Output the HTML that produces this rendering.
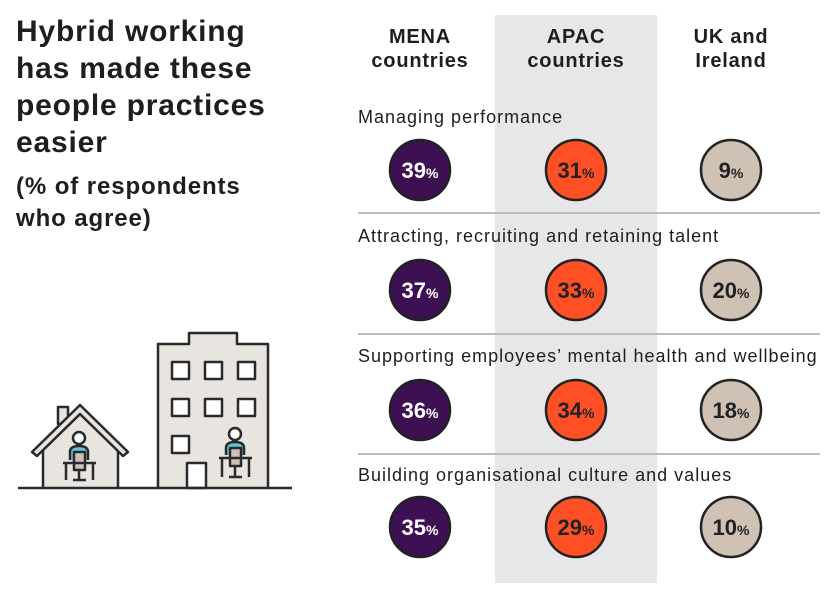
<!DOCTYPE html>
<html><head><style>
body{margin:0;width:832px;height:596px;background:#fff;font-family:"Liberation Sans",sans-serif;overflow:hidden}
</style></head><body>
<svg width="832" height="596" xmlns="http://www.w3.org/2000/svg" font-family="Liberation Sans, sans-serif">
<rect x="495" y="15" width="162" height="568" fill="#e8e7e7"/>
<g font-size="30" font-weight="bold" fill="#1e1e1e" letter-spacing="0.8">
<text x="16" y="41">Hybrid working</text>
<text x="16" y="78">has made these</text>
<text x="16" y="115">people practices</text>
<text x="16" y="152">easier</text>
</g>
<g font-size="24" font-weight="bold" fill="#1e1e1e" letter-spacing="0.9">
<text x="16" y="194">(% of respondents</text>
<text x="16" y="226">who agree)</text>
</g>
<g font-size="20" font-weight="bold" fill="#1e1e1e" text-anchor="middle" letter-spacing="0.8">
<text x="420" y="43">MENA</text><text x="420" y="67">countries</text>
<text x="576" y="43">APAC</text><text x="576" y="67">countries</text>
<text x="731" y="43">UK and</text><text x="731" y="67">Ireland</text>
</g>
<g font-size="18" fill="#1e1e1e" letter-spacing="1">
<text x="358" y="123">Managing performance</text>
<text x="358" y="242">Attracting, recruiting and retaining talent</text>
<text x="358" y="362">Supporting employees’ mental health and wellbeing</text>
<text x="358" y="481">Building organisational culture and values</text>
</g>
<g stroke="#bdbdbd" stroke-width="2">
<line x1="358" y1="213" x2="820" y2="213"/><line x1="358" y1="334" x2="820" y2="334"/><line x1="358" y1="454" x2="820" y2="454"/>
</g>
<g stroke="#222" stroke-width="2.5">
<circle cx="420" cy="170" r="30" fill="#3c1053"/><circle cx="576" cy="170" r="30" fill="#ff5025"/><circle cx="731" cy="170" r="30" fill="#cfc2b4"/>
<circle cx="420" cy="290" r="30" fill="#3c1053"/><circle cx="576" cy="290" r="30" fill="#ff5025"/><circle cx="731" cy="290" r="30" fill="#cfc2b4"/>
<circle cx="420" cy="410" r="30" fill="#3c1053"/><circle cx="576" cy="410" r="30" fill="#ff5025"/><circle cx="731" cy="410" r="30" fill="#cfc2b4"/>
<circle cx="420" cy="527" r="30" fill="#3c1053"/><circle cx="576" cy="527" r="30" fill="#ff5025"/><circle cx="731" cy="527" r="30" fill="#cfc2b4"/>
</g>
<g font-size="22" font-weight="bold" text-anchor="middle">
<g fill="#fff">
<text x="420" y="178">39<tspan font-size="14">%</tspan></text>
<text x="420" y="298">37<tspan font-size="14">%</tspan></text>
<text x="420" y="418">36<tspan font-size="14">%</tspan></text>
<text x="420" y="535">35<tspan font-size="14">%</tspan></text>
</g>
<g fill="#222">
<text x="576" y="178">31<tspan font-size="14">%</tspan></text>
<text x="576" y="298">33<tspan font-size="14">%</tspan></text>
<text x="576" y="418">34<tspan font-size="14">%</tspan></text>
<text x="576" y="535">29<tspan font-size="14">%</tspan></text>
<text x="731" y="178">9<tspan font-size="14">%</tspan></text>
<text x="731" y="298">20<tspan font-size="14">%</tspan></text>
<text x="731" y="418">18<tspan font-size="14">%</tspan></text>
<text x="731" y="535">10<tspan font-size="14">%</tspan></text>
</g>
</g>
<g stroke="#2a2a2a" stroke-width="2.5" fill="#e8e4e0" stroke-linejoin="round">
<path d="M158 488 V344 H189 V333 H237 V344 H268 V488"/>
<g fill="#fff">
<rect x="172" y="362" width="17" height="17"/><rect x="205" y="362" width="17" height="17"/><rect x="238" y="362" width="17" height="17"/>
<rect x="172" y="399" width="17" height="17"/><rect x="205" y="399" width="17" height="17"/><rect x="238" y="399" width="17" height="17"/>
<rect x="172" y="436" width="17" height="17"/>
<rect x="187" y="463" width="19" height="25"/>
</g>
<rect x="58" y="407" width="10" height="17"/>
<path d="M43 488 V450 L80 414 L118 450 V488"/>
<path d="M32 452 L80 405 L128 452 L123 456 L80 414 L37 456 Z" fill="#e8e4e0"/>
<circle cx="79" cy="438" r="6" fill="#fff"/>
<path d="M70 460 V452 Q70 446 79 446 Q88 446 88 452 V460" fill="#5ec4d8"/>
<rect x="74" y="452" width="11" height="18" fill="#cfc2b4"/>
<path d="M63 463 H96 M66 463 V480 M93 463 V480 M79 470 V480 M73 480 H86" fill="none"/>
<circle cx="235" cy="434" r="6" fill="#fff"/>
<path d="M226 455 V448 Q226 442 235 442 Q244 442 244 448 V455" fill="#5ec4d8"/>
<rect x="230" y="448" width="11" height="18" fill="#cfc2b4"/>
<path d="M219 458 H252 M222 458 V477 M249 458 V477 M235 466 V476 M229 477 H242" fill="none"/>
<line x1="18" y1="488" x2="292" y2="488"/>
</g>
</svg>
</body></html>
